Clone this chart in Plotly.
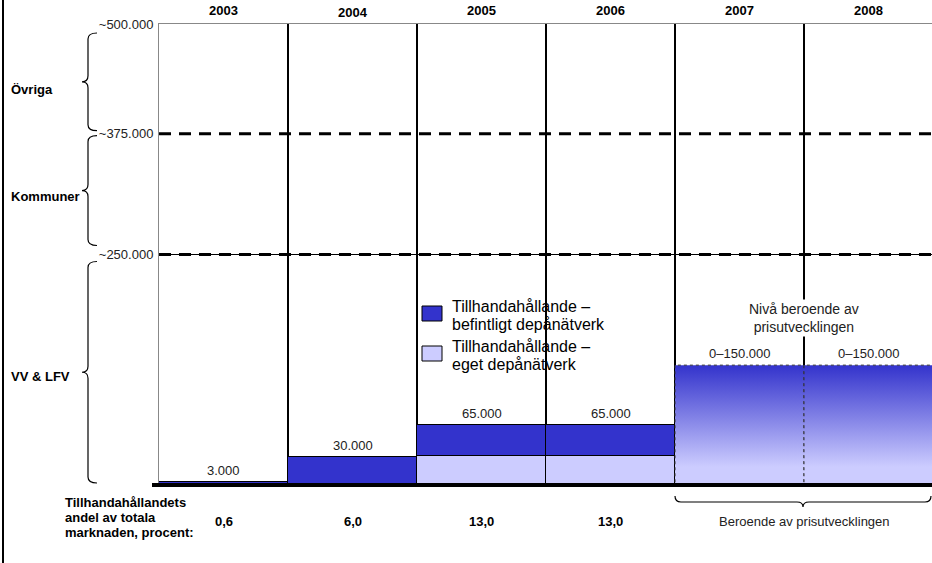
import plotly.graph_objects as go

# Data (thousands of m3)
years = ["2003", "2004", "2005", "2006", "2007", "2008"]
befintligt = [3, 30, 33, 33]          # Tillhandahållande – befintligt depånätverk
eget = [0, 0, 32, 32]                 # Tillhandahållande – eget depånätverk
scenario_idx = [4, 5]                 # 2007, 2008
scenario_level = [130, 130]           # drawn height of the 0–150.000 span
bar_labels = ["3.000", "30.000", "65.000", "65.000", "0–150.000", "0–150.000"]
share = ["0,6", "6,0", "13,0", "13,0"]
levels = [250, 381, 500]
level_labels = ["~250.000", "~375.000", "~500.000"]
segments = ["VV & LFV", "Kommuner", "Övriga"]

DARK = "#3333CC"
LIGHT = "#CCCCFF"
FONT = "Liberation Sans, Arial, sans-serif"

W, H = 932, 563
L, R, T, B = 159, 0, 24, 78
PW, PH = W - L - R, H - T - B


def px_x(p):
    return (p - L) / PW


def px_y(p):
    return (H - B - p) / PH


def val_px(v):
    return (H - B) - v * PH / 500


def pt(x, y):
    return f"{px_x(x):.5f},{px_y(y):.5f}"


def vbrace(top, bot, xe=97, xm=88, xt=82, r=6):
    ym = (top + bot) / 2
    return (f"M{pt(xe, top)} Q{pt(xm, top)} {pt(xm, top + r)} L{pt(xm, ym - r)} "
            f"Q{pt(xm, ym)} {pt(xt, ym)} Q{pt(xm, ym)} {pt(xm, ym + r)} "
            f"L{pt(xm, bot - r)} Q{pt(xm, bot)} {pt(xe, bot)}")


def hbrace(x0, x1, ye=496, yh=502, yt=507, r=6):
    xm = (x0 + x1) / 2
    return (f"M{pt(x0, ye)} Q{pt(x0, yh)} {pt(x0 + r, yh)} L{pt(xm - r, yh)} "
            f"Q{pt(xm, yh)} {pt(xm, yt)} Q{pt(xm, yh)} {pt(xm + r, yh)} "
            f"L{pt(x1 - r, yh)} Q{pt(x1, yh)} {pt(x1, ye)}")


fig = go.Figure()

fig.add_trace(go.Bar(x=list(range(4)), y=eget, width=1, marker=dict(color=LIGHT, line=dict(color="black", width=1)),
                     showlegend=False, hoverinfo="skip"))
fig.add_trace(go.Bar(x=list(range(4)), y=befintligt, width=1, marker=dict(color=DARK, line=dict(color="black", width=1)),
                     showlegend=False, hoverinfo="skip"))

for i, v in zip(scenario_idx, scenario_level):
    fig.add_trace(go.Scatter(
        x=[i - 0.5, i + 0.5, i + 0.5, i - 0.5, i - 0.5], y=[0, 0, v, v, 0],
        mode="lines", fill="toself",
        fillgradient=dict(type="vertical", colorscale=[[0, LIGHT], [0.15, LIGHT], [1, DARK]], start=0, stop=v),
        line=dict(color="#333333", width=1, dash="dot"),
        showlegend=False, hoverinfo="skip"))

shapes = []
# column separators
for i in range(len(years) - 1):
    shapes.append(dict(type="line", xref="x", yref="y", x0=i + 0.5, x1=i + 0.5, y0=0, y1=500,
                       line=dict(color="black", width=2), layer="below"))
# level lines
shapes.append(dict(type="line", xref="paper", yref="y", x0=0, x1=1, y0=levels[0], y1=levels[0],
                   line=dict(color="black", width=1)))
for lv in levels[:2]:
    shapes.append(dict(type="line", xref="paper", yref="y", x0=0, x1=1, y0=lv, y1=lv,
                       line=dict(color="black", width=3, dash="12px,8px")))
# baseline and left frame
shapes.append(dict(type="line", xref="paper", yref="paper", x0=px_x(152), x1=1.01, y0=0, y1=0,
                   line=dict(color="black", width=4)))
shapes.append(dict(type="line", xref="paper", yref="paper", x0=px_x(3), x1=px_x(3), y0=-0.3, y1=1.2,
                   line=dict(color="black", width=2)))

# braces on the left
brace_spans = [(val_px(levels[0]) + 7, val_px(0) - 2),
               (val_px(levels[1]) + 2, val_px(levels[0]) - 9),
               (val_px(levels[2]) + 9, val_px(levels[1]) - 3)]
for top, bot in brace_spans:
    shapes.append(dict(type="path", xref="paper", yref="paper", path=vbrace(top, bot),
                       line=dict(color="black", width=1.2)))
shapes.append(dict(type="path", xref="paper", yref="paper", path=hbrace(675, 931),
                   line=dict(color="black", width=1.2)))

# custom legend
legend_items = [(DARK, ["Tillhandahållande –", "befintligt depånätverk"], 306),
                (LIGHT, ["Tillhandahållande –", "eget depånätverk"], 346)]
ann = []
for color, lines, y0 in legend_items:
    shapes.append(dict(type="rect", xref="paper", yref="paper", x0=px_x(422), x1=px_x(442),
                       y0=px_y(y0), y1=px_y(y0 + 15), fillcolor=color, line=dict(color="black", width=1)))
    for k, txt in enumerate(lines):
        ann.append(dict(xref="paper", yref="paper", x=px_x(450), y=px_y(y0 + 18 * k), xanchor="left",
                        yanchor="middle", text=txt, showarrow=False, font=dict(size=16, color="black")))

# year headers
for i, yr in enumerate(years):
    ann.append(dict(xref="x", yref="paper", x=i, y=px_y(10 if yr != "2004" else 13), text=f"<b>{yr}</b>",
                    yanchor="middle", showarrow=False, font=dict(size=13, color="black")))

# bar labels
tops = [a + b for a, b in zip(befintligt, eget)] + scenario_level
for i, (lab, tp) in enumerate(zip(bar_labels, tops)):
    ann.append(dict(xref="x", yref="y", x=i, y=tp, yanchor="bottom", yshift=2, text=lab,
                    showarrow=False, font=dict(size=13, color="#222222")))

ann.append(dict(xref="x", yref="paper", x=4.5, y=px_y(318), text="Nivå beroende av<br>prisutvecklingen",
                yanchor="middle", showarrow=False, bgcolor="white", font=dict(size=14, color="#222222")))

# segment labels
for seg, (top, bot), dy in zip(segments, brace_spans, [4, 6, 8]):
    ann.append(dict(xref="paper", yref="paper", x=px_x(9), y=px_y((top + bot) / 2 + dy), xanchor="left",
                    yanchor="middle", text=f"<b>{seg}</b>", showarrow=False, font=dict(size=13, color="black")))

# bottom row
for k, txt in enumerate(["Tillhandahållandets", "andel av totala", "marknaden, procent:"]):
    ann.append(dict(xref="paper", yref="paper", x=px_x(63), y=px_y(502 + 15 * k), xanchor="left",
                    yanchor="middle", text=f"<b>{txt}</b>", showarrow=False, font=dict(size=13, color="black")))
for i, s in enumerate(share):
    ann.append(dict(xref="x", yref="paper", x=i, y=px_y(521), text=f"<b>{s}</b>",
                    yanchor="middle", showarrow=False, font=dict(size=13, color="black")))
ann.append(dict(xref="x", yref="paper", x=4.5, y=px_y(521), text="Beroende av prisutvecklingen",
                yanchor="middle", showarrow=False, font=dict(size=13, color="#222222")))

fig.update_layout(
    width=W, height=H, margin=dict(l=L, r=R, t=T, b=B),
    plot_bgcolor="white", paper_bgcolor="white",
    barmode="stack", bargap=0,
    font=dict(family=FONT),
    shapes=shapes, annotations=ann, showlegend=False,
    xaxis=dict(range=[-0.5, -0.5 + PW / 129], showticklabels=False, showgrid=False, zeroline=False,
               showline=True, mirror=True, linecolor="#888888", linewidth=1, fixedrange=True),
    yaxis=dict(range=[0, 500], tickvals=levels, ticktext=level_labels, ticks="", ticklabelstandoff=2,
               tickfont=dict(size=13, color="#222222"), showgrid=False, zeroline=False,
               showline=True, mirror=True, linecolor="#888888", linewidth=1, fixedrange=True),
)

fig.write_html("out.html", config={"displayModeBar": False},
               post_script="document.body.style.margin='0';document.body.style.overflow='hidden';")
